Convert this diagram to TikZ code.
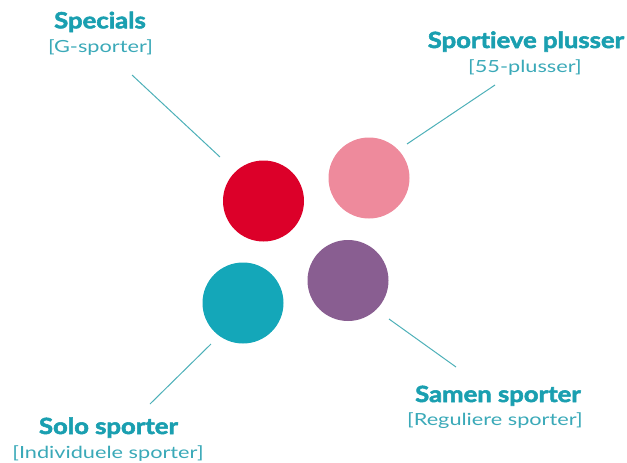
\documentclass[tikz,border=0pt]{standalone}
\usepackage{fontspec}
\setmainfont{Lato}
\newfontfamily\ttlfont{Lato}[FakeStretch=1.15,FakeBold=2.5,Ligatures=NoCommon]
\newfontfamily\subfont{Lato}[FakeStretch=1.3,Ligatures=NoCommon]
\definecolor{tealtxt}{HTML}{1A9FB0}
\definecolor{tealsub}{HTML}{3AA9B8}
\definecolor{linec}{HTML}{4DB0B8}
\definecolor{cred}{HTML}{DC0029}
\definecolor{cpink}{HTML}{EE8A9C}
\definecolor{cteal}{HTML}{14A7B9}
\definecolor{cpurple}{HTML}{895E91}
\begin{document}
\begin{tikzpicture}[x=1pt,y=-1pt,
  dot/.style={circle,minimum size=81pt,inner sep=0pt},
  ttl/.style={font=\ttlfont\fontsize{22.3}{24}\selectfont\bfseries,text=tealtxt,inner sep=0pt,anchor=base},
  sub/.style={font=\subfont\fontsize{16.7}{18}\selectfont,text=tealsub,inner sep=0pt,anchor=base},
  conn/.style={draw=linec,line width=1pt}]
\useasboundingbox (0,0) rectangle (627,463);
\node[dot,fill=cred] (red) at (263.5,201) {};
\node[dot,fill=cpink] (pink) at (369,178) {};
\node[dot,fill=cteal] (teal) at (243,303) {};
\node[dot,fill=cpurple] (purple) at (348,280.5) {};
\node[ttl] (t1) at (100,28.3) {Specials};
\node[sub] (s1) at (100.5,52.3) {[G-sporter]};
\node[ttl] (t2) at (526,48) {Sportieve plusser};
\node[sub] (s2) at (525,72.5) {[55-plusser]};
\node[ttl] (t3) at (108.5,434) {Solo sporter};
\node[sub] (s3) at (108,458) {[Individuele sporter]};
\node[ttl] (t4) at (498,402) {Samen sporter};
\node[sub] (s4) at (495,425) {[Reguliere sporter]};
\coordinate (a1) at (132,75); \coordinate (b1) at (220,157);
\coordinate (a2) at (495,85); \coordinate (b2) at (407,144);
\coordinate (a3) at (150,404); \coordinate (b3) at (211,344);
\coordinate (a4) at (456,367); \coordinate (b4) at (389,319);
\draw[conn] (a1) -- (b1);
\draw[conn] (a2) -- (b2);
\draw[conn] (a3) -- (b3);
\draw[conn] (a4) -- (b4);
\end{tikzpicture}
\end{document}
